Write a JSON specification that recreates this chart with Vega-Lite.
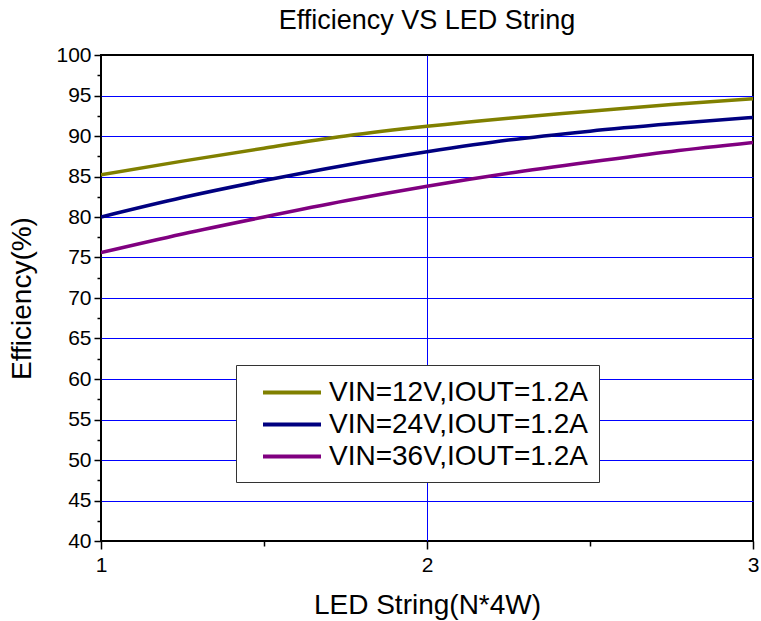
{
  "$schema": "https://vega.github.io/schema/vega-lite/v6.json",
  "autosize": {"type": "none"},
  "padding": {"left": 101, "top": 55, "right": 8, "bottom": 80},
  "width": 652,
  "height": 486,
  "background": "white",
  "config": {
    "font": "Liberation Sans",
    "view": {"stroke": "black", "strokeWidth": 2}
  },
  "title": {
    "text": "Efficiency VS LED String",
    "anchor": "middle",
    "frame": "group",
    "fontSize": 27,
    "fontWeight": "normal",
    "font": "Liberation Sans",
    "color": "black",
    "baseline": "alphabetic",
    "offset": 22,
    "dy": 34
  },
  "data": {
    "values": [
      {"n": 1.0, "eff": 85.2, "series": "VIN=12V,IOUT=1.2A"},
      {"n": 1.25, "eff": 86.9, "series": "VIN=12V,IOUT=1.2A"},
      {"n": 1.5, "eff": 88.5, "series": "VIN=12V,IOUT=1.2A"},
      {"n": 1.75, "eff": 90.0, "series": "VIN=12V,IOUT=1.2A"},
      {"n": 2.0, "eff": 91.2, "series": "VIN=12V,IOUT=1.2A"},
      {"n": 2.25, "eff": 92.2, "series": "VIN=12V,IOUT=1.2A"},
      {"n": 2.5, "eff": 93.05, "series": "VIN=12V,IOUT=1.2A"},
      {"n": 2.75, "eff": 93.9, "series": "VIN=12V,IOUT=1.2A"},
      {"n": 3.0, "eff": 94.6, "series": "VIN=12V,IOUT=1.2A"},
      {"n": 1.0, "eff": 80.0, "series": "VIN=24V,IOUT=1.2A"},
      {"n": 1.25, "eff": 82.4, "series": "VIN=24V,IOUT=1.2A"},
      {"n": 1.5, "eff": 84.5, "series": "VIN=24V,IOUT=1.2A"},
      {"n": 1.75, "eff": 86.4, "series": "VIN=24V,IOUT=1.2A"},
      {"n": 2.0, "eff": 88.05, "series": "VIN=24V,IOUT=1.2A"},
      {"n": 2.25, "eff": 89.5, "series": "VIN=24V,IOUT=1.2A"},
      {"n": 2.5, "eff": 90.6, "series": "VIN=24V,IOUT=1.2A"},
      {"n": 2.75, "eff": 91.5, "series": "VIN=24V,IOUT=1.2A"},
      {"n": 3.0, "eff": 92.3, "series": "VIN=24V,IOUT=1.2A"},
      {"n": 1.0, "eff": 75.6, "series": "VIN=36V,IOUT=1.2A"},
      {"n": 1.25, "eff": 77.9, "series": "VIN=36V,IOUT=1.2A"},
      {"n": 1.5, "eff": 80.0, "series": "VIN=36V,IOUT=1.2A"},
      {"n": 1.75, "eff": 82.0, "series": "VIN=36V,IOUT=1.2A"},
      {"n": 2.0, "eff": 83.8, "series": "VIN=36V,IOUT=1.2A"},
      {"n": 2.25, "eff": 85.4, "series": "VIN=36V,IOUT=1.2A"},
      {"n": 2.5, "eff": 86.8, "series": "VIN=36V,IOUT=1.2A"},
      {"n": 2.75, "eff": 88.1, "series": "VIN=36V,IOUT=1.2A"},
      {"n": 3.0, "eff": 89.2, "series": "VIN=36V,IOUT=1.2A"}
    ]
  },
  "layer": [
    {
      "mark": {"type": "line", "strokeWidth": 3.5, "interpolate": "monotone", "clip": true},
      "encoding": {
        "x": {
          "field": "n",
          "type": "quantitative",
          "scale": {"domain": [1, 3], "nice": false, "zero": false},
          "axis": {
            "orient": "bottom",
            "title": "LED String(N*4W)",
            "titleFontSize": 28,
            "titleFontWeight": "normal",
            "titleColor": "black",
            "titleX": 326,
            "titleY": 64,
            "titleAlign": "center",
            "titleBaseline": "middle",
            "values": [1, 1.5, 2, 2.5, 3],
            "labelExpr": "datum.value % 1 === 0 ? format(datum.value, 'd') : ''",
            "labelFontSize": 21,
            "labelColor": "black",
            "labelPadding": 5,
            "labelFlush": false,
            "labelOverlap": false,
            "domain": false,
            "tickColor": "black",
            "tickWidth": 1.5,
            "tickSize": {"condition": {"test": "datum.value % 1 === 0", "value": 8}, "value": 5},
            "grid": true,
            "gridColor": "#0000ff",
            "gridWidth": 1,
            "gridOpacity": {"condition": {"test": "datum.value === 2", "value": 1}, "value": 0}
          }
        },
        "y": {
          "field": "eff",
          "type": "quantitative",
          "scale": {"domain": [40, 100], "nice": false, "zero": false},
          "axis": {
            "orient": "left",
            "title": "Efficiency(%)",
            "titleFontSize": 28,
            "titleFontWeight": "normal",
            "titleColor": "black",
            "titleAngle": -90,
            "titleX": -79,
            "titleY": 243,
            "titleAlign": "center",
            "titleBaseline": "middle",
            "values": [40, 42.5, 45, 47.5, 50, 52.5, 55, 57.5, 60, 62.5, 65, 67.5, 70, 72.5, 75, 77.5, 80, 82.5, 85, 87.5, 90, 92.5, 95, 97.5, 100],
            "labelExpr": "datum.value % 5 === 0 ? datum.label : ''",
            "labelFontSize": 21,
            "labelColor": "black",
            "labelPadding": 3,
            "labelFlush": false,
            "labelOverlap": false,
            "domain": false,
            "tickColor": "black",
            "tickWidth": 1.5,
            "tickSize": {"condition": {"test": "datum.value % 5 === 0", "value": 7}, "value": 4},
            "grid": true,
            "gridColor": "#0000ff",
            "gridWidth": 1,
            "gridOpacity": {"condition": {"test": "datum.value % 5 === 0 && datum.value > 40 && datum.value < 100", "value": 1}, "value": 0}
          }
        },
        "color": {
          "field": "series",
          "type": "nominal",
          "scale": {
            "domain": ["VIN=12V,IOUT=1.2A", "VIN=24V,IOUT=1.2A", "VIN=36V,IOUT=1.2A"],
            "range": ["#808000", "#000080", "#800080"]
          },
          "legend": {
            "title": null,
            "orient": "none",
            "legendX": 135,
            "legendY": 310,
            "direction": "vertical",
            "symbolType": "M-2,0H2",
            "symbolSize": 841,
            "symbolStrokeWidth": 4,
            "labelFontSize": 28,
            "labelColor": "black",
            "labelOffset": 20.5,
            "labelLimit": 400,
            "padding": 11,
            "symbolOffset": 28.5,
            "rowPadding": 1,
            "strokeColor": "#333333",
            "fillColor": "white"
          }
        }
      }
    }
  ]
}
